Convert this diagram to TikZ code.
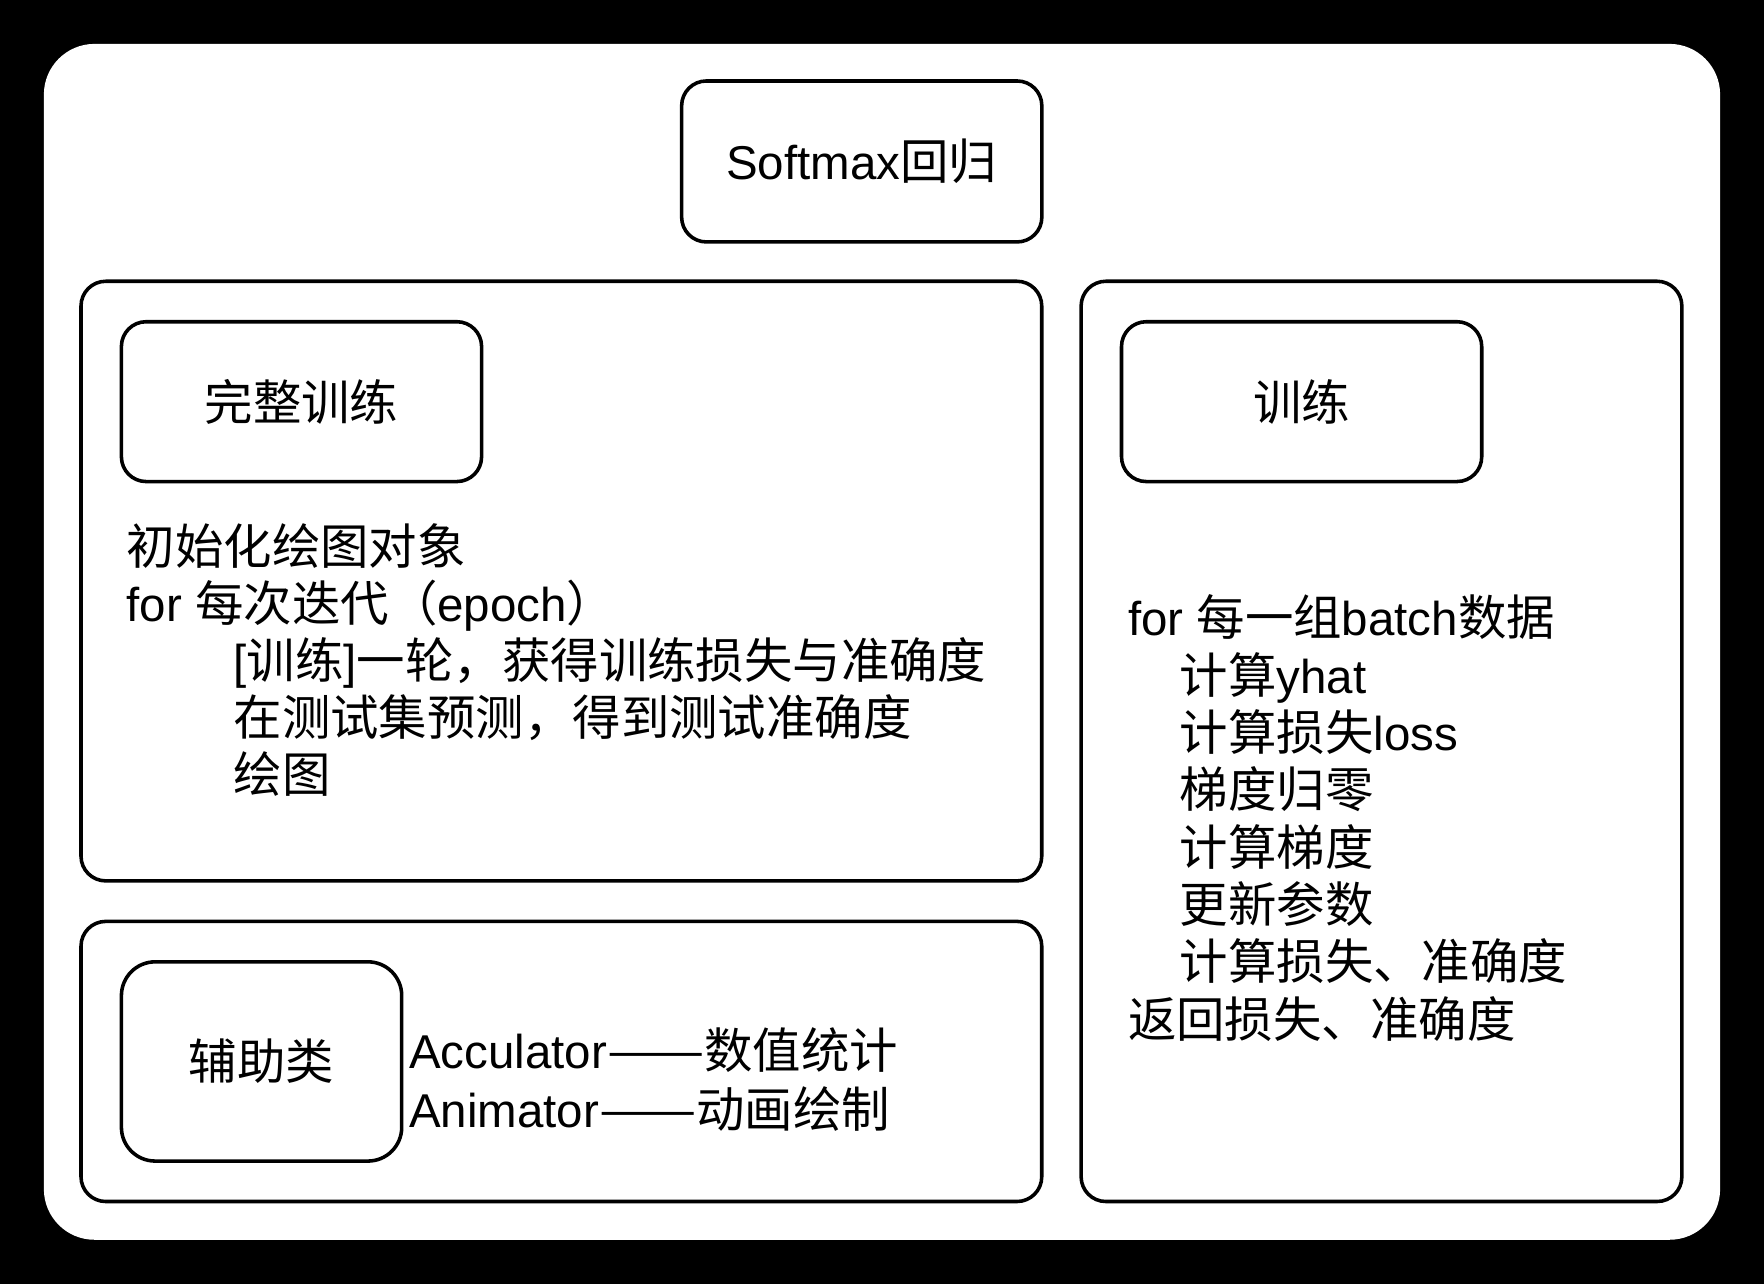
\documentclass[tikz,border=0pt]{standalone}
\usepackage{fontspec}
\usepackage{graphicx}
\setmainfont{Liberation Sans}
\newfontfamily\cjk[Scale=1.02]{Noto Sans CJK SC}
\newcommand\zh[1]{{\cjk #1}}
\newcommand\zhdash{{\cjk\scalebox{1.2}[1]{——}}}
\begin{document}
\begin{tikzpicture}[x=0.01cm,y=-0.01cm,
  panel/.style={draw=black, line width=0.9pt, rounded corners=0.22cm, fill=white},
  titlebox/.style={draw=black, line width=0.9pt, rounded corners=0.22cm, fill=white, inner sep=0pt, font=\fontsize{12}{14.4}\selectfont},
  txt/.style={anchor=base west, inner sep=0pt, font=\fontsize{12}{14.4}\selectfont}]
\useasboundingbox (0,0) rectangle (1568,1141);
\fill[black] (0,0) rectangle (1568,1141);
\fill[white, rounded corners=0.45cm] (39,39) rectangle (1529,1102);

% containers
\draw[panel] (72,250) rectangle (926,783);
\draw[panel] (72,819) rectangle (926,1068);
\draw[panel] (961,250) rectangle (1495,1068);

% title boxes
\node[titlebox, minimum width=3.2cm, minimum height=1.43cm] (soft) at (766,143.5) {Softmax\zh{回归}};
\node[titlebox, minimum width=3.2cm, minimum height=1.42cm] (full) at (268,357) {\zh{完整训练}};
\node[titlebox, minimum width=3.2cm, minimum height=1.42cm] (train) at (1157,357) {\zh{训练}};
\node[titlebox, minimum width=2.49cm, minimum height=1.77cm, rounded corners=0.3cm] (aux) at (232.5,943.5) {\zh{辅助类}};

% left text
\node[txt] (l1) at (112,502) {\zh{初始化绘图对象}};
\node[txt] (l2) at (112,552.5) {for \zh{每次迭代（}epoch\zh{）}};
\node[txt] (l3) at (207,603) {[\zh{训练}]\zh{一轮，获得训练损失与准确度}};
\node[txt] (l4) at (207,653.5) {\zh{在测试集预测，得到测试准确度}};
\node[txt] (l5) at (207,704) {\zh{绘图}};

% right text
\node[txt] (r1) at (1002,565) {for \zh{每一组}batch\zh{数据}};
\node[txt] (r2) at (1048,616) {\zh{计算}yhat};
\node[txt] (r3) at (1048,667) {\zh{计算损失}loss};
\node[txt] (r4) at (1048,718) {\zh{梯度归零}};
\node[txt] (r5) at (1048,769) {\zh{计算梯度}};
\node[txt] (r6) at (1048,820) {\zh{更新参数}};
\node[txt] (r7) at (1048,871) {\zh{计算损失、准确度}};
\node[txt] (r8) at (1002,922) {\zh{返回损失、准确度}};

% bottom text
\node[txt] (b1) at (363,950) {Acculator\zhdash\zh{数值统计}};
\node[txt] (b2) at (363,1002) {Animator\zhdash\zh{动画绘制}};
\end{tikzpicture}
\end{document}
